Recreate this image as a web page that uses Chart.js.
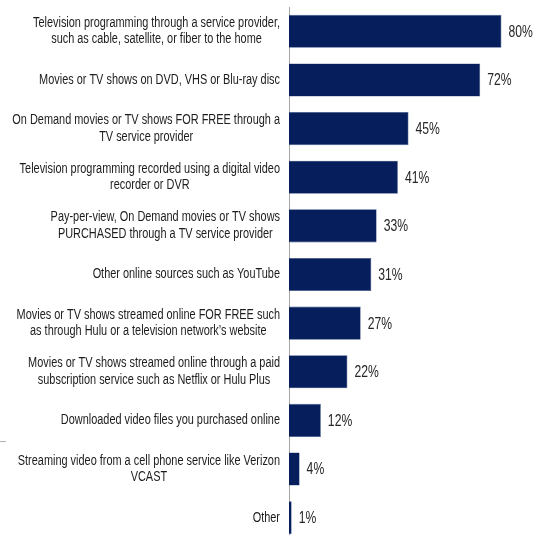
<!DOCTYPE html>
<html>
<head>
<meta charset="utf-8">
<script src="https://cdn.jsdelivr.net/npm/chart.js@4/dist/chart.umd.min.js"></script>
<style>
html,body{margin:0;padding:0;background:#fff;overflow:hidden;}
#wrap{position:relative;width:536px;height:542px;}
</style>
</head>
<body>
<div id="wrap"><canvas id="c"></canvas></div>
<script>
const categories = [
  ["Television programming through a service provider,", "such as cable, satellite, or fiber to the home"],
  ["Movies or TV shows on DVD, VHS or Blu-ray disc"],
  ["On Demand movies or TV shows FOR FREE through a", "TV service provider"],
  ["Television programming recorded using a digital video", "recorder or DVR"],
  ["Pay-per-view, On Demand movies or TV shows", "PURCHASED through a TV service provider"],
  ["Other online sources such as YouTube"],
  ["Movies or TV shows streamed online FOR FREE such", "as through Hulu or a television network\u2019s website"],
  ["Movies or TV shows streamed online through a paid", "subscription service such as Netflix or Hulu Plus"],
  ["Downloaded video files you purchased online"],
  ["Streaming video from a cell phone service like Verizon", "VCAST"],
  ["Other"]
];
const values = [80, 72, 45, 41, 33, 31, 27, 22, 12, 4, 1];

const FONT = "'Liberation Sans', Arial, sans-serif";

function squeezedText(ctx, text, x, y, sx) {
  ctx.save();
  ctx.translate(x, y);
  ctx.scale(sx, 1);
  ctx.fillText(text, 0, 0);
  ctx.restore();
}

const labelPlugin = {
  id: 'labels',
  afterDraw(chart) {
    const ctx = chart.ctx;
    const y = chart.scales.y;
    const x = chart.scales.x;
    ctx.save();
    // category labels: block right-aligned, lines centered
    const sx = 0.78;
    ctx.font = "14px " + FONT;
    ctx.fillStyle = "#1c1c1c";
    ctx.textBaseline = "middle";
    ctx.textAlign = "center";
    const rightEdge = 280, lh = 16.5;
    categories.forEach((lines, i) => {
      const cy = y.getPixelForValue(i);
      const w = Math.max(...lines.map(l => ctx.measureText(l).width)) * sx;
      const cx = rightEdge - w / 2;
      const y0 = cy - (lines.length - 1) * lh / 2;
      lines.forEach((l, k) => squeezedText(ctx, l, cx, y0 + k * lh, sx));
    });
    // value labels
    ctx.font = "16px " + FONT;
    ctx.textAlign = "left";
    ctx.fillStyle = "#262626";
    values.forEach((v, i) => {
      squeezedText(ctx, v + "%", x.getPixelForValue(v) + 7, y.getPixelForValue(i) + 1, 0.76);
    });
    // small stray dash at left edge as in the reference
    ctx.strokeStyle = '#b0b0b0';
    ctx.lineWidth = 1;
    ctx.beginPath();
    ctx.moveTo(0, 441.5);
    ctx.lineTo(6, 441.5);
    ctx.stroke();
    ctx.restore();
  }
};

new Chart(document.getElementById('c'), {
  type: 'bar',
  data: {
    labels: categories,
    datasets: [{
      data: values,
      backgroundColor: '#061f5c',
      borderColor: '#3d5488',
      borderWidth: 0.6,
      borderSkipped: 'left',
      categoryPercentage: 1,
      barPercentage: 0.68
    }]
  },
  options: {
    indexAxis: 'y',
    responsive: true,
    maintainAspectRatio: false,
    animation: false,
    layout: { padding: { top: 7, bottom: 0, left: 289, right: 8 } },
    plugins: { legend: { display: false }, tooltip: { enabled: false } },
    scales: {
      x: { display: false, min: 0, max: 90 },
      y: {
        ticks: { display: false },
        grid: { display: false, drawTicks: false },
        border: { display: true, color: '#a6a6a6', width: 1 }
      }
    }
  },
  plugins: [labelPlugin]
});
</script>
</body>
</html>
